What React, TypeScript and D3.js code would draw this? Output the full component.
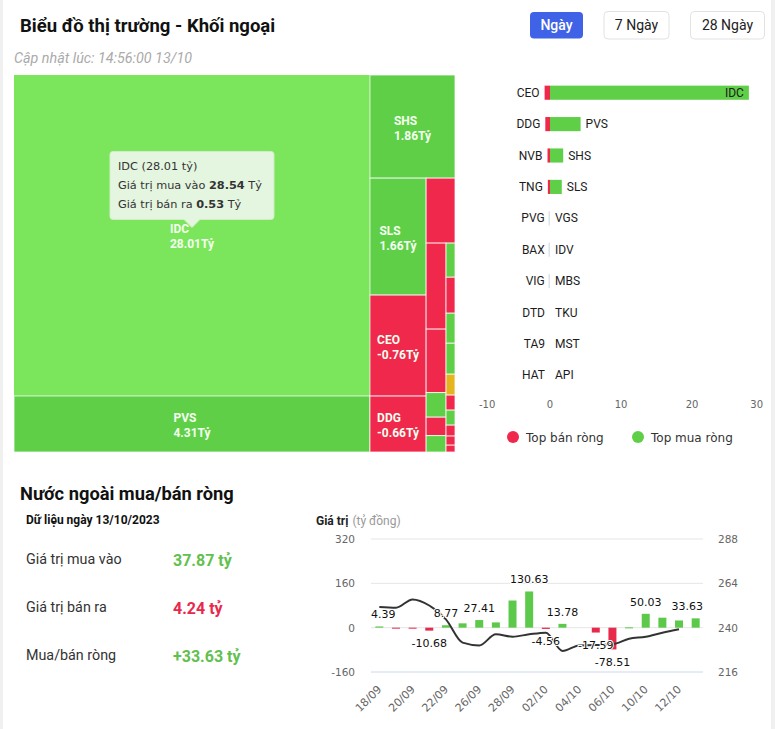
import React from 'react';
import * as d3 from 'd3';

// ---- treemap (Khối ngoại theo mã) ----
const treeNames = ['IDC', 'PVS', 'SHS', 'SLS', 'CEO', 'DDG', 'NVB', 'TNG', 'PVG', 'VGS', 'BAX', 'IDV', 'MBS', 'VIG', 'TKU', 'MST', 'HUT', 'DTD', 'API', 'TA9', 'HAT', 'PVC'];
const treeNet = [28.01, 4.31, 1.86, 1.66, -0.76, -0.66, -0.35, -0.3, -0.05, 0.05, -0.04, 0.04, 0.03, -0.03, 0.01, 0.01, 0, -0.01, 0.005, -0.01, -0.005, -0.004];
const treeSize = [28.01, 4.89, 2.15, 1.61, 1.39, 0.77, 0.46, 0.42, 0.31, 0.12, 0.09, 0.08, 0.075, 0.079, 0.066, 0.068, 0.046, 0.033, 0.033, 0.024, 0.02, 0.015];
// nesting of the tiles: 'h' = split left to right, 'v' = split top to bottom
const treeGroups: any = ['h',
  ['v', 'IDC', 'PVS'],
  ['v', 'SHS',
    ['h',
      ['v', 'SLS', 'CEO', 'DDG'],
      ['v', 'NVB',
        ['h',
          ['v', 'TNG', 'PVG', 'VGS', 'BAX', 'IDV'],
          ['v', 'MBS', 'VIG', 'TKU', 'MST', 'HUT', 'DTD', 'API', 'TA9', 'HAT', 'PVC']]]]]];
const hovered = 'IDC';
const hoverBuy = 28.54;
const hoverSell = 0.53;

// ---- top bán / mua ròng ----
const sellNames = ['CEO', 'DDG', 'NVB', 'TNG', 'PVG', 'BAX', 'VIG', 'DTD', 'TA9', 'HAT'];
const sellValues = [-0.76, -0.66, -0.35, -0.3, -0.05, -0.04, -0.03, 0, 0, 0];
const buyNames = ['IDC', 'PVS', 'SHS', 'SLS', 'VGS', 'IDV', 'MBS', 'TKU', 'MST', 'API'];
const buyValues = [28.01, 4.31, 1.86, 1.66, 0, 0, 0, 0, 0, 0];
const barTicks = [-10, 0, 10, 20, 30];

// ---- nước ngoài mua/bán ròng ----
const days = ['18/09', '19/09', '20/09', '21/09', '22/09', '25/09', '26/09', '27/09', '28/09', '29/09', '02/10', '03/10', '04/10', '05/10', '06/10', '09/10', '10/10', '11/10', '12/10', '13/10'];
const netValues = [4.39, -2.1, -2.6, -10.68, 8.77, 15.6, 27.41, 19, 98, 130.63, -4.56, 13.78, 0, -17.59, -78.51, 1.2, 50.03, 36, 26, 33.63];
const indexValues: (number | null)[] = [251.2, 250.8, 255.3, 252, 244.5, 231.9, 230.4, 236.4, 235.1, 236.4, 237.3, 227.4, 230.4, 230.6, 231, 234, 235.1, 237.3, 239.1, null];
const labeledDays = ['18/09', '21/09', '22/09', '26/09', '29/09', '02/10', '03/10', '05/10', '06/10', '10/10', '13/10'];
const tickDays = ['18/09', '20/09', '22/09', '26/09', '28/09', '02/10', '04/10', '06/10', '10/10', '12/10'];
const netTicks = [-160, 0, 160, 320];
const idxTicks = [216, 240, 264, 288];

const summaryDate = '13/10/2023';
const summaryBuy = 37.87;
const summarySell = 4.24;
const summaryNet = 33.63;

const FONT = 'Roboto, "Noto Sans", sans-serif';
const HC = '"DejaVu Sans", sans-serif';
const GREEN = '#5fcf48';
const GREEN_HOVER = '#7be65c';
const RED = '#f0284c';
const YELLOW = '#e5b520';
const TXT_GREEN = '#62c04e';
const TXT_RED = '#e8294c';

let ctx: CanvasRenderingContext2D | null = null;
function textWidth(s: string, font: string) {
  if (!ctx) ctx = document.createElement('canvas').getContext('2d');
  if (!ctx) return s.length * 6;
  ctx.font = font;
  return ctx.measureText(s).width;
}

const fmt = (v: number) => v.toFixed(2);

function buildTree(g: any): any {
  if (typeof g === 'string') {
    const i = treeNames.indexOf(g);
    return { name: g, size: treeSize[i], net: treeNet[i] };
  }
  return { dir: g[0], children: g.slice(1).map(buildTree) };
}

const Treemap = () => {
  const x0 = 14, y0 = 75, w = 441, h = 377;
  const root = d3.hierarchy(buildTree(treeGroups)).sum((d: any) => d.size || 0);
  d3.treemap<any>()
    .size([w, h])
    .tile((node: any, a, b, c, e) =>
      (node.data.dir === 'h' ? d3.treemapDice : d3.treemapSlice)(node, a, b, c, e))(root);
  const leaves = root.leaves() as any[];
  const color = (d: any) => {
    if (d.data.name === hovered) return GREEN_HOVER;
    if (d.data.net > 0) return GREEN;
    if (d.data.net < 0) return RED;
    return YELLOW;
  };
  const labelFont = `bold 12px ${FONT}`;
  const hv = leaves.find(d => d.data.name === hovered);
  const tipX = (hv.x0 + hv.x1) / 2;
  const tipY = (hv.y0 + hv.y1) / 2 - 8;
  const boxW = 164, boxH = 68;
  const bx = tipX - boxW / 2, by = tipY - 8 - boxH;
  return (
    <g transform={`translate(${x0},${y0})`}>
      {leaves.map((d, i) => (
        <rect key={i} x={d.x0} y={d.y0} width={d.x1 - d.x0} height={d.y1 - d.y0}
          fill={color(d)} stroke="#ffffff" strokeOpacity={d.data.name === hovered ? 0 : 0.75} strokeWidth={1} />
      ))}
      {leaves.filter(d => d.x1 - d.x0 > 40 && d.y1 - d.y0 > 35).map((d, i) => {
        const l1 = d.data.name;
        const l2 = `${fmt(d.data.net)}Tỷ`;
        const bw = Math.max(textWidth(l1, labelFont), textWidth(l2, labelFont));
        const cx = (d.x0 + d.x1) / 2, cy = (d.y0 + d.y1) / 2;
        const lx = cx - bw / 2;
        return (
          <text key={i} fontFamily={FONT} fontSize={12} fontWeight="bold" fill="#f4fff0">
            <tspan x={lx} y={cy - 2}>{l1}</tspan>
            <tspan x={lx} y={cy + 13}>{l2}</tspan>
          </text>
        );
      })}
      <path d={`M${bx + 3},${by} H${bx + boxW - 3} Q${bx + boxW},${by} ${bx + boxW},${by + 3} V${by + boxH - 3} Q${bx + boxW},${by + boxH} ${bx + boxW - 3},${by + boxH} H${tipX + 8} L${tipX},${tipY} L${tipX - 8},${by + boxH} H${bx + 3} Q${bx},${by + boxH} ${bx},${by + boxH - 3} V${by + 3} Q${bx},${by} ${bx + 3},${by} Z`}
        fill="#f7f7f7" fillOpacity={0.85} stroke="#d2ecc8" strokeWidth={1} />
      <text fontFamily={HC} fontSize={11.3} fill="#333">
        <tspan x={bx + 8} y={by + 19}>{`${hovered} (${fmt(hv.data.net)} tỷ)`}</tspan>
        <tspan x={bx + 8} y={by + 38}>Giá trị mua vào <tspan fontWeight="bold">{fmt(hoverBuy)}</tspan> Tỷ</tspan>
        <tspan x={bx + 8} y={by + 57}>Giá trị bán ra <tspan fontWeight="bold">{fmt(hoverSell)}</tspan> Tỷ</tspan>
      </text>
    </g>
  );
};

const TopBars = () => {
  const x = d3.scaleLinear().domain([-10, 30]).range([479, 763]);
  const y = d3.scaleBand<number>().domain(d3.range(sellNames.length)).range([77, 391]).paddingInner(0.55).paddingOuter(0.275);
  const bw = y.bandwidth();
  const f = `12px ${FONT}`;
  return (
    <g>
      {sellValues.map((v, i) => {
        const w = x(0) - x(v);
        const yy = y(i)!;
        return v !== 0 ? (
          <rect key={'s' + i} x={w < 1 ? x(0) - 1.5 : x(v)} y={yy} width={w < 1 ? 1.5 : w} height={bw}
            fill={w < 1 ? '#dde3ea' : RED} />
        ) : null;
      })}
      {buyValues.map((v, i) => {
        const w = x(v) - x(0);
        return v !== 0 ? <rect key={'b' + i} x={x(0)} y={y(i)!} width={w} height={bw} fill={GREEN} /> : null;
      })}
      {sellNames.map((n, i) => (
        <text key={'sl' + i} x={Math.min(x(sellValues[i]), x(0)) - 5} y={y(i)! + bw / 2 + 4}
          textAnchor="end" fontFamily={FONT} fontSize={12} fill="#1c1c1c">{n}</text>
      ))}
      {buyNames.map((n, i) => {
        const end = x(buyValues[i]);
        const inside = end + 5 + textWidth(n, f) > 763;
        return (
          <text key={'bl' + i} x={inside ? end - 5 : end + 5} y={y(i)! + bw / 2 + 4}
            textAnchor={inside ? 'end' : 'start'} fontFamily={FONT} fontSize={12} fill="#1c1c1c">{n}</text>
        );
      })}
      {barTicks.map((t, i) => (
        <text key={'t' + i} x={x(t)} y={408}
          textAnchor={i === 0 ? 'start' : i === barTicks.length - 1 ? 'end' : 'middle'}
          fontFamily={HC} fontSize={10} fill="#666">{t}</text>
      ))}
      <circle cx={513} cy={437} r={6} fill={RED} />
      <text x={526} y={441.5} fontFamily={HC} fontSize={12} fill="#333">Top bán ròng</text>
      <circle cx={638} cy={437} r={6} fill={GREEN} />
      <text x={651} y={441.5} fontFamily={HC} fontSize={12} fill="#333">Top mua ròng</text>
    </g>
  );
};

const NetChart = () => {
  const x = d3.scaleBand().domain(days).range([371, 704]).paddingInner(0.52).paddingOuter(0.26);
  const yN = d3.scaleLinear().domain([-160, 320]).range([672, 539]);
  const yI = d3.scaleLinear().domain([216, 288]).range([672, 539]);
  const bw = x.bandwidth();
  const cx = (d: string) => x(d)! + bw / 2;
  const line = d3.line<number | null>()
    .defined(v => v !== null)
    .x((_, i) => cx(days[i]))
    .y(v => yI(v as number))
    .curve(d3.curveMonotoneX);
  const lf = `11px ${HC}`;
  return (
    <g>
      <text x={316} y={525} fontFamily={FONT} fontSize={12}>
        <tspan fontWeight="bold" fill="#222">Giá trị</tspan>
        <tspan fill="#999" dx={4}>(tỷ đồng)</tspan>
      </text>
      {netTicks.map((t, i) => (
        <g key={t}>
          <line x1={371} x2={703} y1={yN(t)} y2={yN(t)} stroke={i === 0 ? '#ccd6eb' : '#e6e6e6'} />
          <text x={355} y={yN(t) + 4} textAnchor="end" fontFamily={HC} fontSize={10.5} fill="#666">{t}</text>
        </g>
      ))}
      {idxTicks.map(t => (
        <text key={t} x={718} y={yI(t) + 4} fontFamily={HC} fontSize={10.5} fill="#666">{t}</text>
      ))}
      {days.map((d, i) => {
        const v = netValues[i];
        const top = Math.min(yN(v), yN(0));
        const hgt = Math.abs(yN(v) - yN(0));
        return v !== 0 ? (
          <rect key={d} x={x(d)} y={top} width={bw} height={Math.max(hgt, 1)} fill={v > 0 ? '#5cc94a' : TXT_RED} />
        ) : null;
      })}
      <path d={line(indexValues) || ''} fill="none" stroke="#333" strokeWidth={2} />
      {days.map((d, i) => {
        if (!labeledDays.includes(d)) return null;
        const v = netValues[i];
        const s = fmt(v);
        const tw = textWidth(s, lf);
        const c = Math.max(371 + tw / 2, Math.min(703 - tw / 2, cx(d)));
        const yy = v >= 0 ? yN(v) - 8 : yN(v) + 16.5;
        return (
          <text key={'l' + d} x={c} y={yy} textAnchor="middle" fontFamily={HC} fontSize={11} fill="#111"
            stroke="#fff" strokeWidth={2} strokeLinejoin="round" paintOrder="stroke">{s}</text>
        );
      })}
      {tickDays.map(d => (
        <text key={'x' + d} transform={`translate(${cx(d) + 3},${690}) rotate(-45)`} textAnchor="end"
          fontFamily={HC} fontSize={11} fill="#666">{d}</text>
      ))}
    </g>
  );
};

const Button = ({ x, w, label, active }: { x: number; w: number; label: string; active?: boolean }) => (
  <g>
    <rect x={x} y={active ? 12 : 11.5} width={w} height={active ? 26.5 : 27.5} rx={4}
      fill={active ? '#3f62e6' : '#fff'} stroke={active ? 'none' : '#e2e2e2'} />
    <text x={x + w / 2} y={30} textAnchor="middle" fontFamily={FONT} fontSize={14}
      fontWeight={active ? 500 : 400} fill={active ? '#fff' : '#222'}>{label}</text>
  </g>
);

export default function App() {
  return (
    <div style={{ position: 'absolute', left: 0, top: 0 }}>
      <svg width={775} height={729} style={{ display: 'block' }}>
        <rect width={775} height={729} fill="#f0f0f0" />
        <rect x={3} y={0} width={768} height={729} fill="#fff" />
        <text x={20} y={32} fontFamily={FONT} fontSize={18.5} fontWeight="bold" fill="#111">Biểu đồ thị trường - Khối ngoại</text>
        <text x={14} y={63} fontFamily={FONT} fontSize={14.3} fontStyle="italic" fill="#aaa">Cập nhật lúc: 14:56:00 13/10</text>
        <Button x={530} w={53} label="Ngày" active />
        <Button x={604} w={65} label="7 Ngày" />
        <Button x={690.5} w={74} label="28 Ngày" />
        <Treemap />
        <TopBars />
        <text x={20} y={500} fontFamily={FONT} fontSize={18.3} fontWeight="bold" fill="#111">Nước ngoài mua/bán ròng</text>
        <text x={26} y={524} fontFamily={FONT} fontSize={12} fontWeight="bold" fill="#111">Dữ liệu ngày {summaryDate}</text>
        <text x={26} y={564} fontFamily={FONT} fontSize={14.3} fill="#333">Giá trị mua vào</text>
        <text x={173} y={566} fontFamily={FONT} fontSize={16} fontWeight="bold" fill={TXT_GREEN}>{fmt(summaryBuy)} tỷ</text>
        <text x={26} y={612} fontFamily={FONT} fontSize={14.3} fill="#333">Giá trị bán ra</text>
        <text x={173} y={614} fontFamily={FONT} fontSize={16} fontWeight="bold" fill={TXT_RED}>{fmt(summarySell)} tỷ</text>
        <text x={26} y={660} fontFamily={FONT} fontSize={14.3} fill="#333">Mua/bán ròng</text>
        <text x={173} y={662} fontFamily={FONT} fontSize={16} fontWeight="bold" fill={TXT_GREEN}>+{fmt(summaryNet)} tỷ</text>
        <NetChart />
      </svg>
    </div>
  );
}
